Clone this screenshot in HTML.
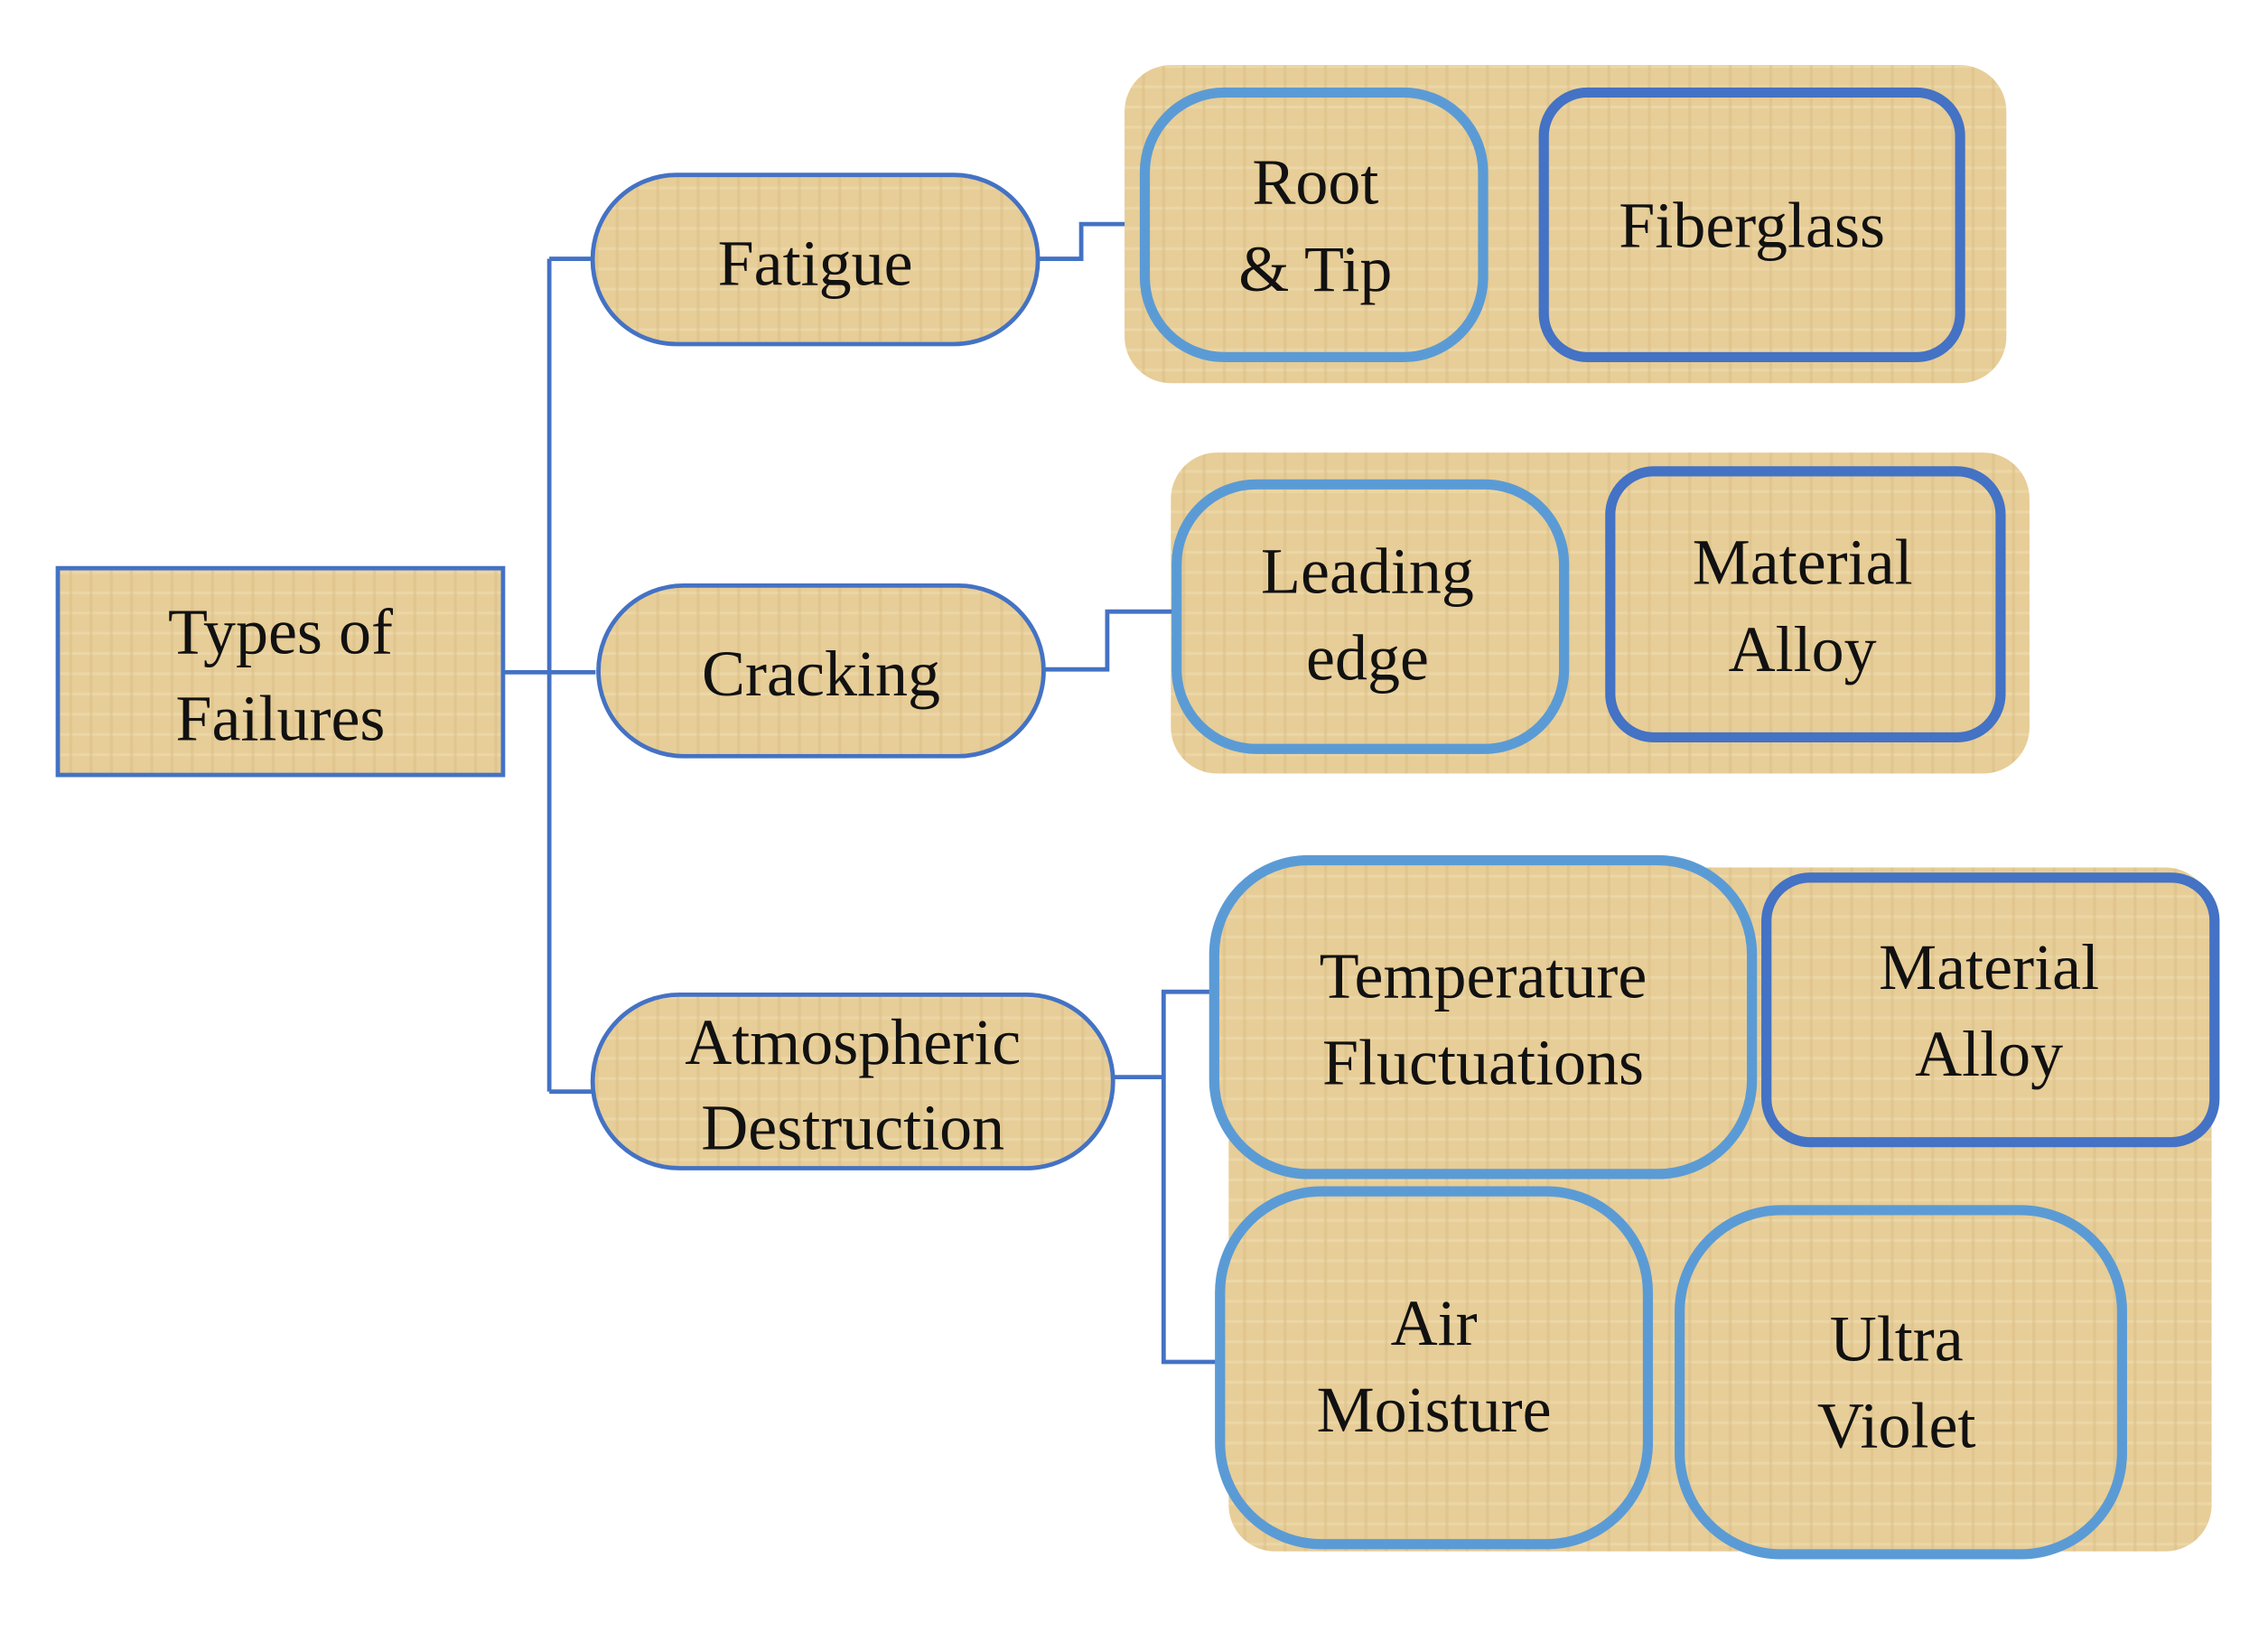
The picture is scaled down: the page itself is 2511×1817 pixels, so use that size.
<!DOCTYPE html>
<html><head><meta charset="utf-8"><style>
html,body{margin:0;padding:0;background:#fff;}
svg{display:block;}
text{font-family:"Liberation Serif",serif;font-size:45px;fill:#111;text-anchor:middle;}
</style></head><body>
<svg width="2511" height="1817" viewBox="0 0 1569 1135" preserveAspectRatio="none" xmlns="http://www.w3.org/2000/svg">
<defs>
<pattern id="tx" width="14" height="14" patternUnits="userSpaceOnUse">
<rect width="14" height="14" fill="#e7cd97"/>
<rect x="0" y="3" width="14" height="2" fill="#efdcb0" opacity="0.6"/>
<rect x="6" y="0" width="2" height="14" fill="#d9bd85" opacity="0.5"/>
</pattern>
</defs>
<rect x="778" y="45" width="610" height="220" rx="32" fill="url(#tx)"/>
<rect x="810" y="313" width="594" height="222" rx="32" fill="url(#tx)"/>
<rect x="850" y="600" width="680" height="473" rx="32" fill="url(#tx)"/>
<g fill="none" stroke="#4472c4" stroke-width="3">
<path d="M348 465 H412"/>
<path d="M380 179 V755"/>
<path d="M380 179 H412"/>
<path d="M380 755 H412"/>
<path d="M718 179 H748 V155 H778"/>
<path d="M722 463 H766 V423 H812"/>
<path d="M770 745 H805"/>
<path d="M838 686 H805 V942 H842"/>
</g>
<rect x="40" y="393" width="308" height="143" fill="url(#tx)" stroke="#4472c4" stroke-width="3"/>
<text x="194" y="452">Types of</text>
<text x="194" y="512">Failures</text>
<g stroke="#4472c4" stroke-width="3" fill="url(#tx)">
<rect x="410" y="121" width="308" height="117" rx="58"/>
<rect x="414" y="405" width="308" height="118" rx="59"/>
<rect x="410" y="688" width="360" height="120" rx="60"/>
</g>
<text x="564" y="197">Fatigue</text>
<text x="568" y="481">Cracking</text>
<text x="590" y="736">Atmospheric</text>
<text x="590" y="795">Destruction</text>
<g fill="url(#tx)" stroke="#5b9bd5" stroke-width="7">
<rect x="792" y="64" width="234" height="183" rx="55"/>
<rect x="814" y="335" width="268" height="183" rx="55"/>
<rect x="840" y="595" width="372" height="217" rx="65"/>
<rect x="844" y="824" width="296" height="244" rx="70"/>
<rect x="1162" y="837" width="306" height="238" rx="70"/>
</g>
<g fill="url(#tx)" stroke="#4472c4" stroke-width="7">
<rect x="1068" y="64" width="288" height="183" rx="30"/>
<rect x="1114" y="326" width="270" height="184" rx="30"/>
<rect x="1222" y="607" width="310" height="183" rx="30"/>
</g>
<text x="910" y="141">Root</text>
<text x="910" y="201">&amp; Tip</text>
<text x="1212" y="171">Fiberglass</text>
<text x="946" y="410">Leading</text>
<text x="946" y="470">edge</text>
<text x="1247" y="404">Material</text>
<text x="1247" y="464">Alloy</text>
<text x="1026" y="690">Temperature</text>
<text x="1026" y="750">Fluctuations</text>
<text x="1376" y="684">Material</text>
<text x="1376" y="744">Alloy</text>
<text x="992" y="930">Air</text>
<text x="992" y="990">Moisture</text>
<text x="1312" y="941">Ultra</text>
<text x="1312" y="1001">Violet</text>
</svg>
</body></html>
